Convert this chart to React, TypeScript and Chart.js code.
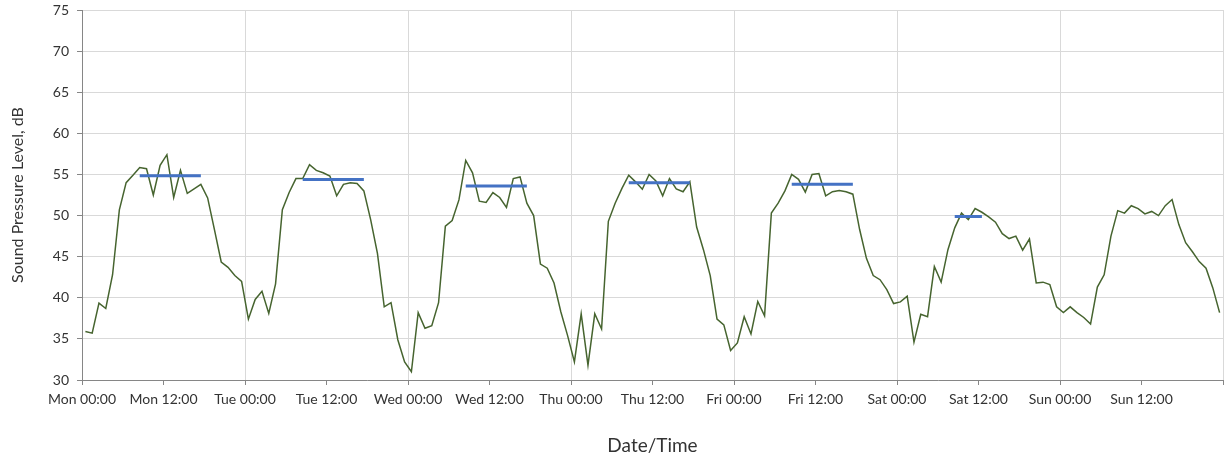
import { useEffect, useRef } from 'react';
import { Chart, registerables } from 'chart.js';

Chart.register(...registerables);

const dayNames = ['Mon', 'Tue', 'Wed', 'Thu', 'Fri', 'Sat', 'Sun'];

// Hourly sound pressure level, dB (one value per hour, 24 per day)
const mon = [35.9, 35.7, 39.35, 38.7, 42.8, 50.7, 54.0, 54.9, 55.85, 55.7, 52.5, 56.1, 57.4, 52.2, 55.5, 52.7, 53.25, 53.8, 52.15, 48.3, 44.35, 43.7, 42.7, 42.0];
const tue = [37.4, 39.8, 40.8, 38.1, 41.7, 50.7, 52.8, 54.5, 54.5, 56.2, 55.5, 55.2, 54.8, 52.4, 53.8, 54.0, 53.9, 53.0, 49.5, 45.4, 38.9, 39.4, 34.9, 32.2];
const wed = [31.0, 38.2, 36.3, 36.6, 39.4, 48.7, 49.4, 51.9, 56.7, 55.2, 51.75, 51.6, 52.8, 52.2, 51.0, 54.5, 54.7, 51.5, 50.0, 44.1, 43.6, 41.8, 38.3, 35.4];
const thu = [32.2, 38.05, 31.8, 38.05, 36.2, 49.3, 51.5, 53.3, 54.9, 54.1, 53.2, 55.0, 54.2, 52.4, 54.5, 53.25, 52.9, 54.1, 48.6, 45.85, 42.7, 37.4, 36.7, 33.6];
const fri = [34.5, 37.7, 35.6, 39.55, 37.8, 50.3, 51.5, 53.0, 55.0, 54.4, 52.85, 55.0, 55.1, 52.4, 52.9, 53.05, 52.9, 52.6, 48.3, 44.8, 42.7, 42.2, 41.0, 39.3];
const sat = [39.5, 40.2, 34.6, 38.0, 37.7, 43.8, 41.9, 45.85, 48.5, 50.3, 49.5, 50.85, 50.4, 49.85, 49.2, 47.8, 47.2, 47.5, 45.8, 47.15, 41.8, 41.9, 41.6, 38.9];
const sun = [38.2, 38.9, 38.2, 37.6, 36.8, 41.3, 42.8, 47.5, 50.6, 50.3, 51.2, 50.85, 50.2, 50.5, 50.0, 51.2, 51.95, 48.9, 46.7, 45.6, 44.4, 43.6, 41.2, 38.2];

// Daytime average level per day (Mon..Sat) and the hours it covers
const dayAverages = [54.85, 54.4, 53.6, 54.0, 53.8, 49.9];
const avgFirstHour = [8, 8, 8, 8, 8, 8];
const avgLastHour = [17, 17, 17, 17, 17, 12];

const yMin = 30;
const yMax = 75;
const yStep = 5;
const xStepHours = 12;

const FONT = 'Lato, "DejaVu Sans", sans-serif';

export default function App() {
  const canvasRef = useRef<HTMLCanvasElement | null>(null);

  useEffect(() => {
    document.body.style.margin = '0';
    const canvas = canvasRef.current;
    if (!canvas) return;

    const hourly = [...mon, ...tue, ...wed, ...thu, ...fri, ...sat, ...sun];
    const levelPoints = hourly.map((v, i) => ({ x: i + 0.5, y: v }));

    const avgPoints: { x: number; y: number | null }[] = [];
    dayAverages.forEach((avg, d) => {
      for (let h = avgFirstHour[d]; h <= avgLastHour[d]; h++) {
        avgPoints.push({ x: d * 24 + h + 0.5, y: avg });
      }
      avgPoints.push({ x: d * 24 + avgLastHour[d] + 1, y: null });
    });

    const totalHours = dayNames.length * 24;

    const chart = new Chart(canvas, {
      type: 'line',
      data: {
        datasets: [
          {
            data: avgPoints as any,
            borderColor: '#4472C4',
            borderWidth: 3,
            pointRadius: 0,
            tension: 0,
            spanGaps: false,
          },
          {
            data: levelPoints as any,
            borderColor: '#46642f',
            borderWidth: 1.5,
            pointRadius: 0,
            tension: 0,
          },
        ],
      },
      options: {
        animation: false,
        responsive: true,
        maintainAspectRatio: false,
        layout: { padding: { left: 0, right: 6, top: 10, bottom: 0 } },
        plugins: {
          legend: { display: false },
          tooltip: { enabled: false },
        },
        scales: {
          x: {
            type: 'linear',
            min: 0,
            max: totalHours,
            afterFit: (scale: any) => {
              scale.height = 81;
            },
            ticks: {
              stepSize: xStepHours,
              autoSkip: false,
              maxRotation: 0,
              minRotation: 0,
              padding: 6,
              color: '#333333',
              font: { family: FONT, size: 14 },
              callback: (value: any) => {
                const v = Number(value);
                if (v >= totalHours) return '';
                const day = dayNames[Math.floor(v / 24)];
                return `${day} ${v % 24 === 0 ? '00:00' : '12:00'}`;
              },
            },
            grid: {
              color: (ctx: any) =>
                ctx.tick && ctx.tick.value % 24 === 0 ? '#d9d9d9' : 'rgba(0,0,0,0)',
              tickColor: '#868686',
              tickLength: 5,
              lineWidth: 1,
            },
            border: { color: '#868686', width: 1 },
            title: {
              display: true,
              text: 'Date/Time',
              color: '#333333',
              font: { family: FONT, size: 19 },
              padding: { top: 0, bottom: 4 },
            },
          },
          y: {
            min: yMin,
            max: yMax,
            afterFit: (scale: any) => {
              scale.width = 82;
              scale.paddingTop = 0;
              scale.paddingBottom = 0;
            },
            ticks: {
              stepSize: yStep,
              padding: 8,
              color: '#333333',
              font: { family: FONT, size: 14 },
            },
            grid: {
              color: '#d9d9d9',
              tickColor: '#868686',
              tickLength: 5,
            },
            border: { color: '#868686', width: 1 },
            title: {
              display: true,
              text: 'Sound Pressure Level, dB',
              color: '#333333',
              font: { family: FONT, size: 16 },
              padding: { top: 8, bottom: 0 },
            },
          },
        },
      },
    });

    return () => {
      chart.destroy();
    };
  }, []);

  return (
    <div style={{ position: 'relative', width: '1229px', height: '461px' }}>
      <canvas ref={canvasRef} />
    </div>
  );
}
